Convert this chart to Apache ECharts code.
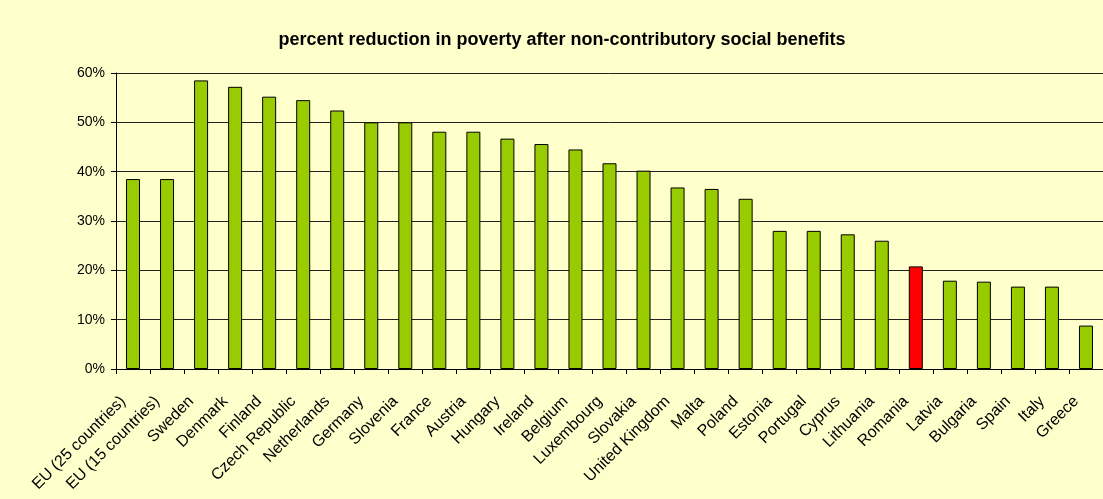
<!DOCTYPE html>
<html>
<head>
<meta charset="utf-8">
<script src="https://cdn.jsdelivr.net/npm/echarts@6/dist/echarts.min.js"></script>
<style>
html,body{margin:0;padding:0;background:#FFFFCC;}
#chart{width:1103px;height:499px;}
</style>
</head>
<body>
<div id="chart"></div>
<script>
const categories = ["EU (25 countries)","EU (15 countries)","Sweden","Denmark","Finland","Czech Republic","Netherlands","Germany","Slovenia","France","Austria","Hungary","Ireland","Belgium","Luxembourg","Slovakia","United Kingdom","Malta","Poland","Estonia","Portugal","Cyprus","Lithuania","Romania","Latvia","Bulgaria","Spain","Italy","Greece"];
const values = [38.5,38.5,58.5,57.2,55.2,54.5,52.4,50.0,50.0,48.1,48.1,46.7,45.6,44.5,41.7,40.2,36.8,36.5,34.5,28.0,28.0,27.3,26.0,20.8,17.9,17.7,16.7,16.7,8.8];
const highlight = ["Romania"];
const yTicks = [0,10,20,30,40,50,60];

const chart = echarts.init(document.getElementById('chart'));
const font = 'Liberation Sans, Arial, sans-serif';
chart.setOption({
  backgroundColor: '#FFFFCC',
  animation: false,
  title: {
    text: 'percent reduction in poverty after non-contributory social benefits',
    left: 557, top: 26, textAlign: 'center',
    textStyle: {fontFamily: font, fontSize: 18, fontWeight: 'bold', color: '#000'}
  },
  grid: {left: 116, right: 0, top: 73, bottom: 130},
  xAxis: {
    type: 'category',
    data: categories,
    axisLine: {lineStyle: {color: '#000', width: 1}},
    axisTick: {show: true, length: 5, alignWithLabel: false, lineStyle: {color: '#000'}},
    axisLabel: {rotate: 45, interval: 0, fontFamily: font, fontSize: 16, color: '#000', margin: 20, padding: [0, 14, 0, 0]}
  },
  yAxis: {
    type: 'value',
    min: yTicks[0], max: yTicks[yTicks.length-1], interval: 10,
    axisLine: {show: true, lineStyle: {color: '#000'}},
    axisTick: {show: true, length: 5, lineStyle: {color: '#000'}},
    axisLabel: {formatter: '{value}%', fontFamily: font, fontSize: 14, color: '#000', margin: 11},
    splitLine: {lineStyle: {color: '#222', width: 1}}
  },
  series: [{
    type: 'bar',
    data: values.map((v, i) => ({
      value: v,
      itemStyle: {color: highlight.includes(categories[i]) ? '#FF0000' : '#99CC00'}
    })),
    barWidth: 14,
    itemStyle: {borderColor: '#000', borderWidth: 1}
  }]
});
</script>
</body>
</html>
